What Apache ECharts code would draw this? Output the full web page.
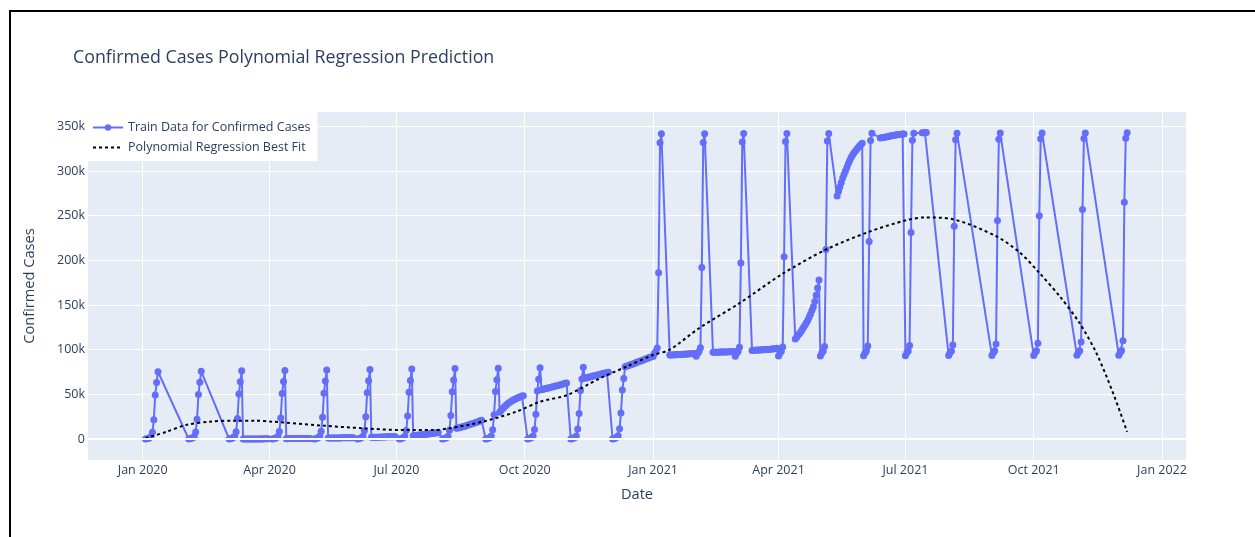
<!DOCTYPE html>
<html>
<head>
<meta charset="utf-8">
<title>Confirmed Cases Polynomial Regression Prediction</title>
<script src="https://cdn.jsdelivr.net/npm/echarts@6/dist/echarts.min.js"></script>
<style>
  html, body { margin: 0; padding: 0; background: #fff; overflow: hidden; }
  #main { position: absolute; left: 0; top: 0; width: 1255px; height: 537px; }
  /* black frame of the screenshot (top and left edges only) */
  #frame { position: absolute; left: 9px; top: 10px; width: 1246px; height: 527px;
           border-top: 2px solid #000; border-left: 2px solid #000; box-sizing: border-box; pointer-events: none; }
</style>
</head>
<body>
<div id="main"></div>
<div id="frame"></div>
<script>
var mar2020 = [0,0,0,0,0,0,0,0,0,0,0,0,
  0,0,0,0,0,0,0,0,0,0,0.1,0.1,0.1,0.1,0.1,0.2,0.2,0.2,0.2];
var apr2020 = [0.2,0.2,0.2,0.3,0.3,0.3,0.3,0.3,0.4,0.4,0.4,0.4,
  0.4,0.4,0.5,0.5,0.5,0.5,0.5,0.5,0.6,0.6,0.6,0.6,0.6,0.7,0.7,0.7,0.7,0.7];
var may2020 = [0.7,0.8,0.8,0.8,0.8,0.9,0.9,0.9,0.9,1.0,1.0,1.0,
  1.0,1.0,1.1,1.1,1.1,1.1,1.2,1.2,1.2,1.2,1.3,1.3,1.3,1.3,1.4,1.4,1.4,1.4,1.5];
var jun2020 = [1.5,1.5,1.6,1.6,1.6,1.7,1.7,1.7,1.8,1.8,1.8,1.9,
  1.9,1.9,2.0,2.0,2.0,2.1,2.1,2.2,2.2,2.3,2.3,2.4,2.4,2.5,2.5,2.6,2.6,2.7];
var jul2020 = [2.7,2.8,2.8,2.9,3.0,3.0,3.1,3.2,3.3,3.4,3.5,3.6,
  3.7,3.9,4.0,4.2,4.4,4.5,4.7,4.9,5.1,5.3,5.5,5.7,5.9,6.1,6.3,6.6,6.8,7.1,7.4];
var aug2020 = [7.6,7.9,8.2,8.5,8.8,9.1,9.5,9.9,10.3,10.7,11.1,11.5,
  11.9,12.3,12.7,13.1,13.5,14.0,14.4,14.9,15.4,15.9,16.4,16.9,17.4,17.9,18.5,19.1,19.7,20.3,20.9];
var sep2020 = [21.5,22.2,22.9,23.6,24.3,25.0,25.7,26.4,27.1,27.8,28.5,29.2,
  30.0,32.0,33.8,35.4,36.9,38.3,39.6,40.8,41.9,42.9,43.8,44.6,45.4,46.1,46.8,47.4,48.0,48.5];
var oct2020 = [49.2,49.8,50.3,50.8,51.3,51.8,52.3,52.8,53.3,53.8,54.3,54.8,
  55.2,55.6,56.0,56.4,56.8,57.2,57.6,58.0,58.4,58.8,59.2,59.6,60.0,60.4,60.8,61.3,61.8,62.3,62.8];
var nov2020 = [63.2,63.6,64.0,64.4,64.8,65.2,65.6,66.0,66.4,66.8,67.2,67.6,
  68.0,68.4,68.8,69.2,69.6,70.0,70.4,70.8,71.2,71.6,72.0,72.4,72.8,73.2,73.6,74.0,74.4,74.8];
var dec2020 = [75.3,75.8,76.3,76.8,77.3,77.8,78.3,78.8,79.3,79.8,80.3,80.8,
  81.3,81.9,82.5,83.1,83.7,84.3,84.9,85.5,86.1,86.7,87.3,87.9,88.5,89.1,89.7,90.3,90.9,91.5,92.0];
var jan2021 = [92.3,92.5,92.7,92.9,93.0,93.2,93.3,93.4,93.5,93.6,93.7,93.8,
  93.9,94.0,94.1,94.2,94.3,94.4,94.5,94.6,94.7,94.8,94.9,95.0,95.1,95.2,95.3,95.4,95.5,95.6,95.7];
var feb2021 = [95.8,95.9,96.0,96.1,96.2,96.3,96.4,96.5,96.6,96.7,96.8,96.9,
  97.0,97.1,97.1,97.2,97.2,97.3,97.3,97.4,97.4,97.5,97.5,97.6,97.6,97.7,97.7,97.8];
var mar2021 = [97.9,98.0,98.1,98.2,98.3,98.4,98.5,98.6,98.7,98.8,98.9,99.0,
  99.1,99.2,99.3,99.4,99.5,99.6,99.7,99.8,99.9,100.0,100.1,100.2,100.3,100.4,100.6,100.8,101.0,101.2,101.5];
var apr2021 = [101.8,102.2,102.6,103.0,103.5,104.0,104.6,105.3,106.2,107.2,108.5,110.0,
  112,114,116,118,120,122.5,125,127.5,130,133,136.5,140,144,148,154,161,169,178];
var may2021 = [186,192,197,204,212,221,231,238,244.5,250,257,265,
  272,277,282,287,292,296,300,304,308,311.5,315,317.5,320,322,324,326,328,329.5,331];
var jun2021 = [331.5,332,332.5,333,333.5,334,334.5,335,335.5,336,336.3,336.6,
  336.9,337.2,337.5,337.8,338.1,338.4,338.7,339,339.3,339.6,339.9,340.2,340.5,340.7,340.9,341.1,341.3,341.5];
var jul2021 = [341.6,341.7,341.8,341.9,342.0,342.1,342.2,342.3,342.4,342.5,342.6,342.7,
  342.8,342.9,343.0,343.1];

// polynomial best fit, read at a set of dates (thousands)
var fitDates = ['2020-01-03','2020-01-18','2020-02-01','2020-02-18','2020-03-06','2020-03-22',
  '2020-04-03','2020-04-13','2020-05-09','2020-06-07','2020-07-05','2020-07-27','2020-08-08',
  '2020-09-01','2020-09-25','2020-10-12','2020-10-31','2020-11-24','2020-12-13','2021-01-01',
  '2021-01-13','2021-02-03','2021-03-04','2021-04-04','2021-05-05','2021-06-05','2021-07-02',
  '2021-07-15','2021-08-04','2021-09-04','2021-09-21','2021-10-05','2021-10-20','2021-11-03',
  '2021-11-15','2021-11-27','2021-12-07'];
var fitValues = [1,8,15.7,19.4,20.5,20.5,19.4,18.3,15,12,10,10,12,19.4,30.6,41.8,49,68,81,94,
  100,124,152,185,212,232,245,248,246,227,208.7,186,159,129.5,96,51,8];

// axis ticks
var xTickDates = ['2020-01-01','2020-04-01','2020-07-01','2020-10-01','2021-01-01',
  '2021-04-01','2021-07-01','2021-10-01','2022-01-01'];
var xTickLabels = ['Jan 2020','Apr 2020','Jul 2020','Oct 2020','Jan 2021',
  'Apr 2021','Jul 2021','Oct 2021','Jan 2022'];
var yTickValues = [0,50000,100000,150000,200000,250000,300000,350000];
var yTickLabels = ['0','50k','100k','150k','200k','250k','300k','350k'];

function toTime(s) {
  var p = s.split('-');
  return new Date(+p[0], +p[1] - 1, +p[2]).getTime();
}

var realMonths = [
  [2020, 2, mar2020], [2020, 3, apr2020], [2020, 4, may2020], [2020, 5, jun2020],
  [2020, 6, jul2020], [2020, 7, aug2020], [2020, 8, sep2020], [2020, 9, oct2020],
  [2020, 10, nov2020], [2020, 11, dec2020], [2021, 0, jan2021], [2021, 1, feb2021],
  [2021, 2, mar2021], [2021, 3, apr2021], [2021, 4, may2021], [2021, 5, jun2021],
  [2021, 6, jul2021]
];

// days 1..12 were read month-first, so day and month swap on the plot; then sorted by plotted date
var trainData = [];
realMonths.forEach(function (m) {
  var vals = m[2];
  for (var i = 0; i < vals.length; i++) {
    var day = i + 1;
    var t = day <= 12 ? new Date(m[0], day - 1, m[1] + 1) : new Date(m[0], m[1], day);
    trainData.push([t.getTime(), vals[i] * 1000]);
  }
});
trainData.sort(function (a, b) { return a[0] - b[0]; });

var fitData = fitDates.map(function (d, i) { return [toTime(d), fitValues[i] * 1000]; });
var xTicks = xTickDates.map(toTime);

var FONT = '"Open Sans", Verdana, Arial, sans-serif';
var TXT = '#2a3f5f';

var chart = echarts.init(document.getElementById('main'));
chart.setOption({
  animation: false,
  backgroundColor: '#fff',
  textStyle: { fontFamily: FONT },
  title: {
    text: 'Confirmed Cases Polynomial Regression Prediction',
    left: 73, top: 49, padding: 0,
    textStyle: { color: TXT, fontSize: 17.8, fontWeight: 'normal', fontFamily: FONT }
  },
  legend: {
    data: [
      { name: 'Train Data for Confirmed Cases' },
      // dotted line only, no marker
      { name: 'Polynomial Regression Best Fit', itemStyle: { opacity: 0 } }
    ],
    orient: 'vertical',
    left: 88, top: 112,
    padding: [9, 7, 7, 4],
    itemGap: 7,
    itemWidth: 30, itemHeight: 8,
    backgroundColor: '#fff',
    textStyle: { color: TXT, fontSize: 12.5, fontFamily: FONT }
  },
  grid: {
    left: 88, right: 69, top: 112, bottom: 77,
    show: true, backgroundColor: '#E5ECF6', borderWidth: 0
  },
  xAxis: {
    // dates as timestamps on a value axis, so the quarter ticks can be set exactly
    type: 'value',
    min: new Date(2019, 10, 22, 19).getTime(),
    max: new Date(2022, 0, 18, 5).getTime(),
    name: 'Date',
    nameLocation: 'middle',
    nameGap: 27,
    nameTextStyle: { color: TXT, fontSize: 14.6, fontFamily: FONT },
    axisLine: { show: false },
    axisTick: { show: false, customValues: xTicks },
    axisLabel: {
      customValues: xTicks,
      color: TXT, fontSize: 12.5, fontFamily: FONT, margin: 4,
      formatter: function (v) {
        var i = xTicks.indexOf(v);
        return i >= 0 ? xTickLabels[i] : '';
      }
    },
    splitLine: { show: true, lineStyle: { color: '#fff', width: 1 } }
  },
  yAxis: {
    type: 'value',
    min: -23500, max: 366000,
    name: 'Confirmed Cases',
    nameLocation: 'middle',
    nameGap: 51,
    nameTextStyle: { color: TXT, fontSize: 14.6, fontFamily: FONT },
    axisLine: { show: false },
    axisTick: { show: false, customValues: yTickValues },
    axisLabel: {
      customValues: yTickValues,
      color: TXT, fontSize: 12.5, fontFamily: FONT, margin: 3,
      formatter: function (v) {
        var i = yTickValues.indexOf(v);
        return i >= 0 ? yTickLabels[i] : '';
      }
    },
    splitLine: { show: true, lineStyle: { color: '#fff', width: 1 } }
  },
  series: [
    {
      // zero line, thicker like the plotly template
      type: 'line', data: [], silent: true, z: 1,
      markLine: {
        silent: true, symbol: 'none', label: { show: false },
        lineStyle: { color: '#fff', width: 2, type: 'solid' },
        data: [{ yAxis: 0 }]
      }
    },
    {
      name: 'Train Data for Confirmed Cases',
      type: 'line',
      data: trainData,
      symbol: 'circle',
      symbolSize: 7,
      showSymbol: true,
      color: '#636efa',
      lineStyle: { color: '#636efa', width: 2 },
      itemStyle: { color: '#636efa' },
      z: 2
    },
    {
      name: 'Polynomial Regression Best Fit',
      type: 'line',
      data: fitData,
      symbol: 'none',
      smooth: 0.3,
      color: '#000',
      lineStyle: { color: '#000', width: 2, type: [3, 3] },
      z: 3
    }
  ]
});
</script>
</body>
</html>
